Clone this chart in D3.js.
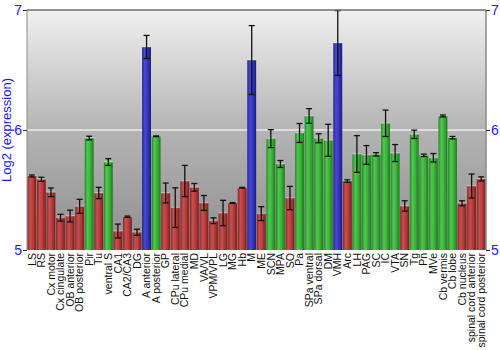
<!DOCTYPE html>
<html>
<head>
<meta charset="utf-8">
<script src="https://cdn.jsdelivr.net/npm/d3@7"></script>
<style>
  body { margin: 0; background: #fff; }
  text { font-family: "Liberation Sans", Arial, sans-serif; }
</style>
</head>
<body>
<svg id="chart" width="500" height="350"></svg>
<script>
var regions = ["LS", "RS", "Cx motor", "Cx cingulate", "OB anterior", "OB posterior", "Pir", "Tu", "ventral S",
    "CA1", "CA2/CA3", "DG", "A anterior", "A posterior", "GP", "CPu lateral", "CPu medial", "MD", "VA/VL",
    "VPM/VPL", "LG", "MG", "Hb", "M", "ME", "SCN", "MPA", "SO", "Pa", "SPa ventral", "SPa dorsal", "DM",
    "VMH", "Arc", "LH", "PAG", "SC", "IC", "VTA", "SN", "Tg", "Pn", "MVe", "Cb vermis", "Cb lobe",
    "Cb nucleus", "spinal cord anterior", "spinal cord posterior"];
var expression = [5.617, 5.589, 5.481, 5.269, 5.283, 5.364, 5.933, 5.475, 5.733,
    5.158, 5.278, 5.148, 6.692, 5.948, 5.475, 5.353, 5.575, 5.522, 5.392,
    5.244, 5.308, 5.392, 5.519, 6.583, 5.303, 5.928, 5.717, 5.433, 5.975, 6.117, 5.931, 5.914,
    6.725, 5.575, 5.800, 5.792, 5.797, 6.056, 5.808, 5.367, 5.964, 5.789, 5.769, 6.117, 5.936,
    5.389, 5.533, 5.592];
var stdError = [0.008, 0.017, 0.036, 0.028, 0.049, 0.058, 0.015, 0.047, 0.028,
    0.058, 0.005, 0.025, 0.096, 0.003, 0.083, 0.165, 0.130, 0.032, 0.062,
    0.024, 0.106, 0.003, 0.003, 0.287, 0.058, 0.075, 0.029, 0.097, 0.079, 0.061, 0.037, 0.133,
    0.270, 0.010, 0.153, 0.078, 0.014, 0.110, 0.071, 0.043, 0.035, 0.010, 0.035, 0.008, 0.010,
    0.021, 0.100, 0.017];
// r = red, g = green, b = blue
var groups = ["r", "r", "r", "r", "r", "r", "g", "r", "g",
    "r", "r", "r", "b", "g", "r", "r", "r", "r", "r",
    "r", "r", "r", "r", "b", "r", "g", "g", "r", "g", "g", "g", "g",
    "b", "r", "g", "g", "g", "g", "g", "r", "g", "g", "g", "g", "g",
    "r", "r", "r"];
var yTicks = [5, 6, 7];

var margin = { top: 10, right: 14, bottom: 100, left: 27 },
    width = 500 - margin.left - margin.right,
    height = 350 - margin.top - margin.bottom;

var svg = d3.select("#chart");
var defs = svg.append("defs");

// plot background, light at the top fading to grey
var bg = defs.append("linearGradient").attr("id", "bgGrad")
    .attr("x1", 0).attr("y1", 0).attr("x2", 0).attr("y2", 1);
bg.append("stop").attr("offset", "0%").attr("stop-color", "#f0f0f0");
bg.append("stop").attr("offset", "50%").attr("stop-color", "#b4b4b4");
bg.append("stop").attr("offset", "100%").attr("stop-color", "#8e8e8e");

// cylinder shading for the bars
var shades = {
    r: ["#842626", "#c85050", "#b43a3a", "#7a1c1c"],
    g: ["#268426", "#52c652", "#38b038", "#1c781c"],
    b: ["#222288", "#4a4ad0", "#3434b8", "#1c1c80"]
};
Object.keys(shades).forEach(function(k) {
    var lg = defs.append("linearGradient").attr("id", "bar_" + k)
        .attr("x1", 0).attr("y1", 0).attr("x2", 1).attr("y2", 0);
    [0, 30, 65, 100].forEach(function(o, i) {
        lg.append("stop").attr("offset", o + "%").attr("stop-color", shades[k][i]);
    });
});

var g = svg.append("g").attr("transform", "translate(" + margin.left + "," + margin.top + ")");

var x = d3.scaleBand().domain(regions).range([0, width]).paddingInner(0.07).paddingOuter(0.04);
var y = d3.scaleLinear().domain([5, 7]).range([height, 0]);

g.append("rect").attr("width", width).attr("height", height).style("fill", "url(#bgGrad)");

// grid
g.selectAll(".grid").data([6]).enter().append("line")
    .attr("x1", 0).attr("x2", width)
    .attr("y1", function(d) { return y(d); }).attr("y2", function(d) { return y(d); })
    .style("stroke", "#ececec").style("stroke-width", "1.5px");

// bars
g.selectAll(".bar").data(expression).enter().append("rect")
    .attr("class", "bar")
    .attr("x", function(d, i) { return x(regions[i]); })
    .attr("width", x.bandwidth())
    .attr("y", function(d) { return y(d); })
    .attr("height", function(d) { return height - y(d); })
    .style("fill", function(d, i) { return "url(#bar_" + groups[i] + ")"; });

// thin lighter cap on top of each bar
g.selectAll(".cap").data(expression).enter().append("rect")
    .attr("x", function(d, i) { return x(regions[i]); })
    .attr("width", x.bandwidth())
    .attr("y", function(d) { return y(d) - 1; })
    .attr("height", 1.5)
    .style("fill", "#ffffff").style("fill-opacity", 0.3);

// error bars
var err = g.selectAll(".err").data(expression).enter().append("g")
    .attr("class", "err")
    .attr("transform", function(d, i) { return "translate(" + (x(regions[i]) + x.bandwidth() / 2) + ",0)"; })
    .style("stroke", "#111").style("stroke-width", "1.3px");
err.append("line")
    .attr("y1", function(d, i) { return y(d + stdError[i]); })
    .attr("y2", function(d, i) { return y(d - stdError[i]); });
err.append("line").attr("x1", -3).attr("x2", 3)
    .attr("y1", function(d, i) { return y(d + stdError[i]); })
    .attr("y2", function(d, i) { return y(d + stdError[i]); });
err.append("line").attr("x1", -3).attr("x2", 3)
    .attr("y1", function(d, i) { return y(d - stdError[i]); })
    .attr("y2", function(d, i) { return y(d - stdError[i]); });

// frame
g.append("line").attr("x1", 0).attr("x2", width).attr("y1", 0).attr("y2", 0)
    .style("stroke", "#6e6e6e").style("stroke-width", "1.5px");
g.append("line").attr("x1", width).attr("x2", width).attr("y1", 0).attr("y2", height)
    .style("stroke", "#8a8a8a").style("stroke-width", "1.5px");
g.append("line").attr("x1", 0).attr("x2", 0).attr("y1", 0).attr("y2", height)
    .style("stroke", "#8a8a8a").style("stroke-width", "1px");

// y axes on both sides
var leftAxis = g.append("g").call(d3.axisLeft(y).tickValues(yTicks).tickSize(4).tickFormat(d3.format("d")));
var rightAxis = g.append("g").attr("transform", "translate(" + width + ",0)")
    .call(d3.axisRight(y).tickValues(yTicks).tickSize(4).tickFormat(d3.format("d")));
[leftAxis, rightAxis].forEach(function(a) {
    a.select(".domain").remove();
    a.selectAll(".tick line").style("stroke", "#333");
    a.selectAll(".tick text").style("fill", "#1a1aff").style("font-size", "14px")
        .style("font-family", "'Liberation Sans', Arial, sans-serif");
});
leftAxis.selectAll(".tick text").attr("x", -5);
rightAxis.selectAll(".tick text").attr("x", 5);

// category labels
g.selectAll(".xlabel").data(regions).enter().append("text")
    .attr("class", "xlabel")
    .attr("transform", function(d) {
        return "translate(" + (x(d) + x.bandwidth() / 2) + "," + (height + 3) + ") rotate(-90)";
    })
    .attr("text-anchor", "end")
    .attr("dy", "0.35em")
    .style("font-size", "10.5px")
    .style("fill", "#111")
    .text(function(d) { return d; });

// y title
svg.append("text")
    .attr("transform", "translate(11," + (margin.top + height / 2) + ") rotate(-90)")
    .attr("text-anchor", "middle")
    .style("font-size", "13px")
    .style("fill", "#1a1aff")
    .text("Log2 (expression)");
</script>
</body>
</html>
